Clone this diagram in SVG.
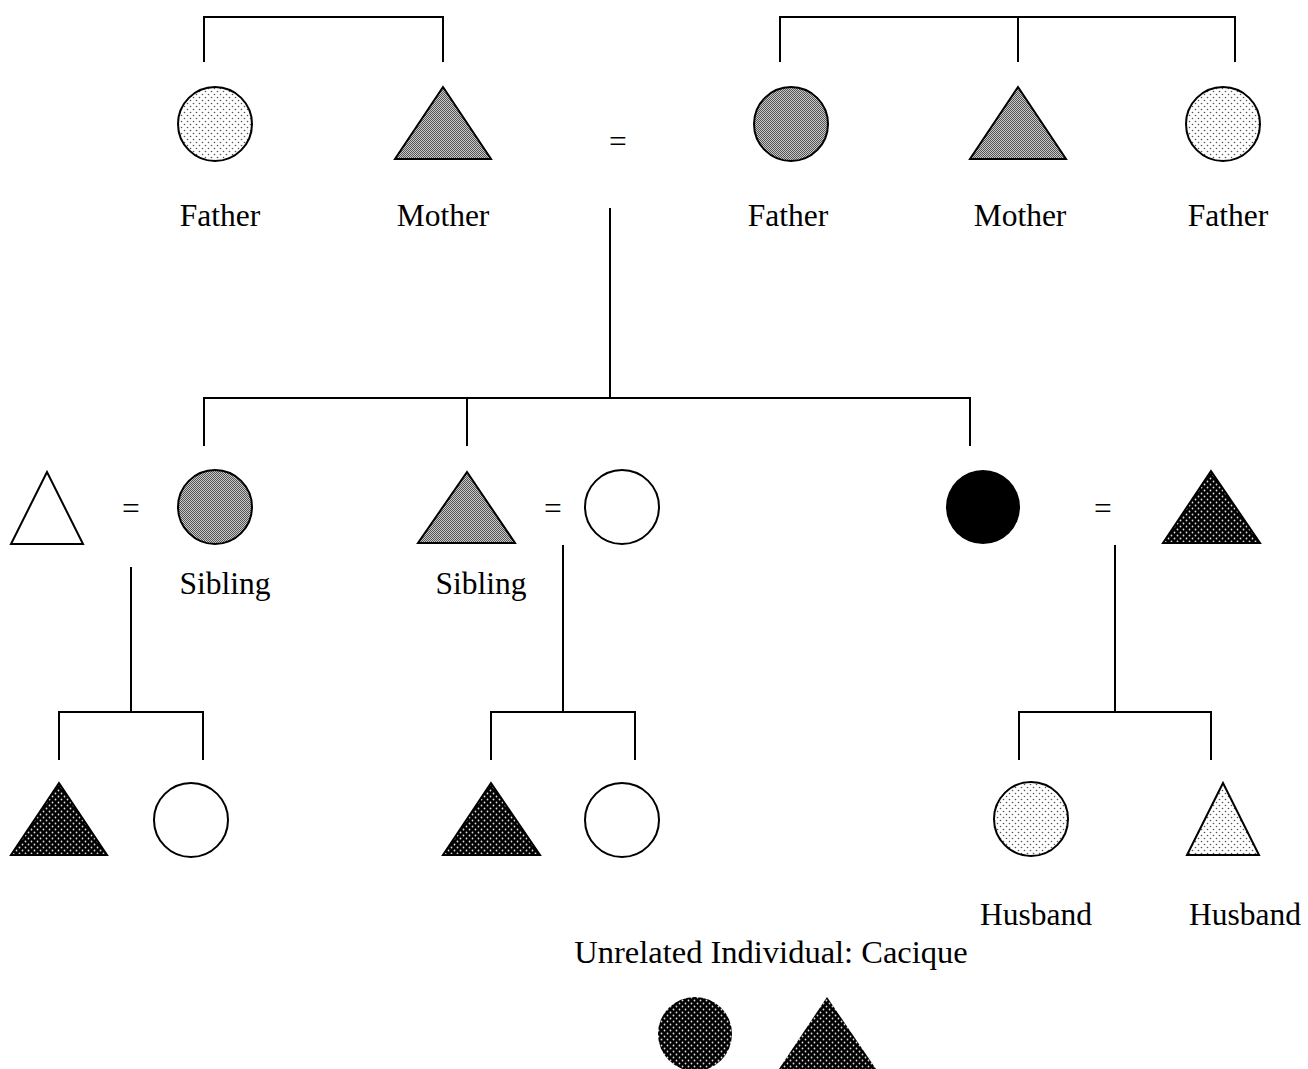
<svg xmlns="http://www.w3.org/2000/svg" width="1308" height="1069" viewBox="0 0 1308 1069">
<defs>
<pattern id="light" width="6" height="6" patternUnits="userSpaceOnUse">
<rect width="6" height="6" fill="#fff"/>
<circle cx="1.5" cy="1.5" r="0.8" fill="#555"/>
<circle cx="4.5" cy="4.5" r="0.8" fill="#555"/>
</pattern>
<pattern id="gray" width="2" height="2" patternUnits="userSpaceOnUse">
<rect width="2" height="2" fill="#c8c8c8"/>
<rect width="1" height="1" fill="#555"/>
<rect x="1" y="1" width="1" height="1" fill="#555"/>
</pattern>
<pattern id="dark" width="6" height="6" patternUnits="userSpaceOnUse">
<rect width="6" height="6" fill="#000"/>
<circle cx="1.5" cy="1.5" r="0.9" fill="#ddd"/>
<circle cx="4.5" cy="4.5" r="0.9" fill="#ddd"/>
</pattern>
</defs>
<style>
.s{stroke:#000;stroke-width:2}
.w{fill:#fff}
.l{fill:url(#light)}
.g{fill:url(#gray)}
.d{fill:url(#dark)}
.b{fill:#000}
.t{font-family:"Liberation Serif","Times New Roman",serif;font-size:31.5px;fill:#000;text-anchor:middle}
.c{fill:none;stroke:#000;stroke-width:2}
</style>
<rect width="1308" height="1069" fill="#fff"/>
<g id="connectors">
<path class="c" d="M204 62V17H443V62"/>
<path class="c" d="M780 62V17H1235V62M1018 17V62"/>
<path class="c" d="M610 208V398M204 446V398H970V446M467 398V446"/>
<path class="c" d="M131 567V712M59 760V712H203V760"/>
<path class="c" d="M563 545V712M491 760V712H635V760"/>
<path class="c" d="M1115 545V712M1019 760V712H1211V760"/>
<text class="t" x="618" y="152">=</text>
<text class="t" x="131" y="519">=</text>
<text class="t" x="553" y="519">=</text>
<text class="t" x="1103" y="519">=</text>
</g>
<g id="n1"><circle class="s l" cx="215" cy="124" r="37"/><text class="t" x="220" y="226">Father</text></g>
<g id="n2"><polygon class="s g" points="443,87 395,159 491,159"/><text class="t" x="443" y="226">Mother</text></g>
<g id="n3"><circle class="s g" cx="791" cy="124" r="37"/><text class="t" x="788" y="226">Father</text></g>
<g id="n4"><polygon class="s g" points="1018,87 970,159 1066,159"/><text class="t" x="1020" y="226">Mother</text></g>
<g id="n5"><circle class="s l" cx="1223" cy="124" r="37"/><text class="t" x="1228" y="226">Father</text></g>
<g id="n6"><polygon class="s w" points="47,472 11,544 83,544"/></g>
<g id="n7"><circle class="s g" cx="215" cy="507" r="37"/><text class="t" x="225" y="594">Sibling</text></g>
<g id="n8"><polygon class="s g" points="467,472 418,543 515,543"/><text class="t" x="481" y="594">Sibling</text></g>
<g id="n9"><circle class="s w" cx="622" cy="507" r="37"/></g>
<g id="n10"><circle class="b" cx="983" cy="507" r="37"/></g>
<g id="n11"><polygon class="s d" points="1211,471 1163,543 1260,543"/></g>
<g id="n12"><polygon class="s d" points="59,783 11,855 107,855"/></g>
<g id="n13"><circle class="s w" cx="191" cy="820" r="37"/></g>
<g id="n14"><polygon class="s d" points="491,783 443,855 540,855"/></g>
<g id="n15"><circle class="s w" cx="622" cy="820" r="37"/></g>
<g id="n16"><circle class="s l" cx="1031" cy="819" r="37"/><text class="t" x="1036" y="925">Husband</text></g>
<g id="n17"><polygon class="s l" points="1223,783 1187,855 1259,855"/><text class="t" x="1245" y="925">Husband</text></g>
<g id="legend">
<text class="t" x="771" y="963" style="font-size:32.5px">Unrelated Individual: Cacique</text>
<circle class="d" cx="695" cy="1034" r="37"/>
<polygon class="d" points="827,997 779,1069 876,1069"/>
</g>
</svg>
